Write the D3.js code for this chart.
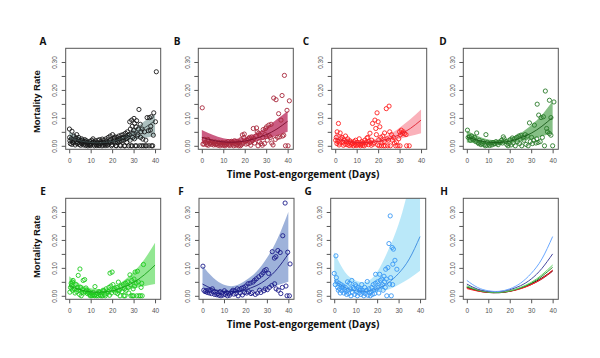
<!DOCTYPE html>
<html><head><meta charset="utf-8">
<script src="https://cdn.jsdelivr.net/npm/d3@7"></script>
<style>body{margin:0;background:#fff}</style>
</head><body>
<svg id="c" width="600" height="358"></svg>
<script>
// ---------- DATA ----------
const fitDays = [0,5,10,15,20,25,30,35,40];
const xTicks = [0,10,20,30,40];
const yTicks = [0,0.05,0.10,0.15,0.20,0.25,0.30];
const yLabelTicks = [0,0.10,0.20,0.30];

const fitA = [0.030,0.018,0.012,0.011,0.016,0.027,0.043,0.064,0.090];
const loA  = [0.013,0.008,0.005,0.005,0.008,0.014,0.021,0.028,0.035];
const hiA  = [0.050,0.032,0.021,0.018,0.024,0.038,0.060,0.088,0.115];
const fitB = [0.030,0.020,0.014,0.013,0.017,0.026,0.040,0.060,0.088];
const loB  = [0.011,0.009,0.006,0.006,0.009,0.015,0.024,0.036,0.050];
const hiB  = [0.057,0.040,0.027,0.024,0.030,0.043,0.066,0.095,0.125];
const fitC = [0.026,0.017,0.012,0.012,0.016,0.025,0.040,0.062,0.092];
const loC  = [0.013,0.009,0.007,0.007,0.010,0.016,0.025,0.035,0.045];
const hiC  = [0.050,0.031,0.021,0.020,0.026,0.040,0.065,0.095,0.130];
const fitD = [0.032,0.020,0.013,0.012,0.017,0.028,0.045,0.070,0.102];
const loD  = [0.012,0.008,0.005,0.005,0.008,0.015,0.024,0.034,0.045];
const hiD  = [0.055,0.035,0.023,0.021,0.028,0.045,0.074,0.110,0.160];
const fitE = [0.036,0.022,0.014,0.013,0.018,0.030,0.048,0.075,0.110];
const loE  = [0.018,0.012,0.008,0.008,0.011,0.018,0.026,0.034,0.042];
const hiE  = [0.070,0.042,0.027,0.024,0.032,0.052,0.085,0.130,0.190];
const fitF = [0.042,0.024,0.016,0.015,0.022,0.036,0.060,0.098,0.150];
const loF  = [0.026,0.016,0.011,0.010,0.013,0.019,0.027,0.038,0.050];
const hiF  = [0.108,0.065,0.040,0.036,0.055,0.085,0.135,0.205,0.300];
const fitG = [0.055,0.030,0.018,0.016,0.025,0.045,0.080,0.132,0.212];
const loG  = [0.035,0.020,0.012,0.011,0.014,0.022,0.040,0.062,0.090];
const hiG  = [0.157,0.085,0.055,0.050,0.085,0.160,0.256,0.400,0.600];

const ptsA = [[0.1,.060],[0.3,.018],[0.5,.008],[0.2,.030],[1.3,.052],[1.0,.025],[1.6,.012],[1.2,.005],
[2.2,.035],[2.5,.020],[2.0,.010],[2.8,.003],[3.1,.028],[3.4,.015],[3.7,.008],[3.5,.040],
[4.2,.022],[4.0,.012],[4.6,.005],[4.4,.030],[5.1,.018],[5.5,.010],[5.3,.002],[5.8,.025],
[6.2,.020],[6.0,.008],[6.6,.003],[6.4,.013],[7.1,.015],[7.4,.006],[7.7,.001],[7.3,.022],
[8.2,.012],[8.5,.005],[8.0,.018],[8.7,.000],[9.1,.010],[9.4,.004],[9.6,.016],[9.9,.001],
[10.2,.008],[10.5,.020],[10.0,.003],[10.8,.012],[11.1,.025],[11.4,.006],[11.7,.000],[11.3,.014],
[12.2,.018],[12.5,.004],[12.0,.010],[12.8,.001],[13.1,.012],[13.4,.020],[13.7,.002],[13.3,.007],
[14.2,.022],[14.5,.008],[14.0,.001],[14.8,.015],[15.1,.010],[15.4,.024],[15.7,.003],[15.3,.000],
[16.2,.020],[16.5,.006],[16.0,.012],[16.8,.001],[17.1,.025],[17.4,.008],[17.7,.002],[17.3,.015],
[18.2,.030],[18.5,.010],[18.0,.003],[18.8,.018],[19.1,.035],[19.4,.012],[19.7,.000],[19.3,.022],
[20.2,.040],[20.5,.015],[20.0,.004],[20.8,.025],[21.1,.028],[21.4,.010],[21.7,.001],[21.3,.032],
[22.2,.030],[22.5,.012],[22.0,.000],[22.8,.020],[23.1,.035],[23.4,.015],[23.7,.002],[23.3,.025],
[24.2,.038],[24.5,.018],[24.0,.000],[24.8,.028],[25.1,.040],[25.4,.020],[25.7,.000],[25.3,.030],
[26.2,.045],[26.5,.025],[26.0,.000],[26.8,.012],[27.1,.050],[27.4,.030],[27.7,.000],[27.3,.038],
[28.2,.086],[28.5,.060],[28.0,.040],[28.8,.000],[28.4,.020],[29.1,.092],[29.4,.070],[29.7,.045],[29.3,.000],[29.6,.030],
[30.2,.098],[30.5,.080],[30.0,.055],[30.8,.000],[30.4,.025],[31.1,.068],[31.4,.090],[31.7,.035],[31.3,.000],
[32.5,.130],[32.2,.060],[32.0,.040],[32.8,.000],[33.1,.077],[33.4,.050],[33.7,.000],[33.3,.030],
[34.3,.024],[34.5,.000],[34.0,.060],[35.1,.050],[35.4,.000],[35.7,.020],[36.3,.101],[36.9,.054],[36.0,.000],
[37.4,.101],[37.8,.056],[37.2,.000],[38.2,.104],[38.4,.000],[38.0,.070],[39.4,.118],[39.2,.038],[38.9,.000],
[40.2,.086],[40.6,.265]];

const ptsB = [[0.2,.136],[0.5,.006],[1.2,.023],[1.0,.006],[1.6,.012],[2.8,.023],[2.3,.004],[2.5,.010],
[3.2,.018],[3.6,.008],[3.0,.002],[4.2,.012],[4.5,.005],[4.8,.015],[5.2,.010],[5.5,.003],[5.8,.008],
[6.2,.014],[6.5,.004],[6.8,.006],[7.2,.008],[7.5,.002],[7.8,.012],[8.2,.010],[8.5,.000],[8.8,.005],
[9.2,.006],[9.5,.012],[9.8,.002],[10.2,.009],[10.5,.003],[10.8,.000],[11.2,.012],[11.5,.004],[11.8,.007],
[12.2,.015],[12.5,.005],[12.8,.001],[13.2,.010],[13.5,.003],[13.8,.016],[14.2,.012],[14.5,.006],[14.8,.000],
[15.2,.018],[15.5,.008],[15.8,.002],[16.2,.015],[16.5,.005],[16.8,.010],[17.2,.000],[17.5,.012],[17.8,.006],
[18.2,.022],[18.5,.004],[18.0,.000],[18.9,.039],[19.3,.010],[19.6,.030],[19.8,.042],[20.3,.015],[20.6,.006],
[21.2,.020],[21.5,.008],[21.8,.025],[22.2,.030],[22.5,.012],[22.8,.002],[23.2,.032],[23.6,.018],
[24.0,.062],[24.3,.026],[24.6,.010],[25.5,.064],[25.8,.050],[25.2,.035],[26.2,.000],[26.5,.045],[26.8,.015],
[27.2,.038],[27.6,.008],[28.2,.002],[28.6,.058],[28.4,.030],[29.2,.008],[29.7,.062],[29.5,.040],
[30.2,.068],[30.5,.020],[31.2,.074],[31.5,.035],[32.3,.077],[32.0,.030],[32.6,.010],[33.5,.171],[33.2,.003],
[34.6,.165],[34.3,.023],[35.8,.115],[35.3,.030],[36.9,.092],[36.3,.032],[37.4,.180],[37.6,.035],
[38.5,.252],[38.2,.038],[39.0,.000],[39.7,.127],[40.2,.000],[40.8,.161]];

const ptsC = [[0.2,.020],[0.5,.030],[0.8,.008],[0.9,.050],[1.5,.080],[1.2,.015],[1.8,.003],
[2.3,.046],[2.6,.025],[2.0,.010],[3.2,.030],[3.5,.012],[3.8,.002],[4.2,.020],[4.5,.006],[4.8,.035],
[5.2,.015],[5.5,.004],[5.8,.025],[6.2,.010],[6.5,.001],[6.8,.018],[7.2,.012],[7.5,.003],[7.8,.008],
[8.2,.008],[8.5,.000],[8.8,.015],[9.2,.005],[9.5,.020],[9.8,.001],[10.2,.012],[10.5,.003],[10.8,.006],
[11.2,.025],[11.5,.004],[11.8,.000],[12.2,.008],[12.5,.015],[12.8,.002],[13.2,.010],[13.5,.000],[13.8,.020],
[14.2,.006],[14.5,.012],[14.8,.028],[15.2,.030],[15.5,.004],[15.8,.015],[16.2,.045],[16.5,.010],[16.8,.002],
[17.4,.080],[17.0,.020],[17.7,.006],[18.5,.092],[18.9,.062],[18.2,.012],[19.5,.118],[19.2,.040],[19.8,.003],
[20.0,.086],[20.8,.068],[20.5,.000],[20.3,.022],[21.2,.030],[21.5,.000],[21.8,.010],[22.2,.035],[22.5,.000],[22.8,.015],
[23.8,.133],[23.0,.046],[23.3,.000],[24.2,.025],[24.5,.000],[24.8,.020],[25.1,.142],[25.4,.050],[25.7,.000],
[26.2,.040],[26.6,.020],[27.2,.030],[27.6,.010],[28.5,.014],[28.2,.000],[29.2,.000],[29.6,.025],
[30.0,.050],[30.4,.040],[30.2,.000],[30.8,.056],[31.3,.045],[32.3,.044],[31.8,.050],[33.0,.040],[33.3,.000],[34.5,.000]];

const ptsD = [[0.3,.056],[0.6,.030],[1.2,.032],[1.6,.020],[2.2,.035],[2.6,.025],[3.2,.022],[3.6,.030],
[4.6,.046],[4.2,.015],[5.2,.012],[5.5,.008],[5.8,.020],[6.2,.010],[6.6,.004],[7.2,.008],[7.6,.015],
[8.2,.005],[8.6,.000],[8.9,.040],[9.3,.002],[9.6,.012],[10.2,.006],[10.6,.001],[11.2,.010],[11.6,.003],
[12.2,.012],[12.6,.006],[13.2,.008],[13.6,.015],[14.2,.010],[14.6,.004],[15.2,.014],[15.6,.012],
[16.2,.020],[16.6,.010],[17.0,.032],[17.4,.025],[18.2,.015],[18.6,.005],[19.2,.000],[19.6,.008],
[20.2,.022],[20.6,.003],[21.2,.028],[21.6,.010],[22.2,.025],[22.6,.000],[23.2,.030],[23.6,.015],
[24.2,.035],[24.6,.008],[25.2,.038],[25.6,.000],[26.2,.030],[26.6,.020],[27.2,.040],[27.6,.005],
[28.2,.035],[28.6,.000],[29.2,.082],[29.6,.015],[30.2,.030],[30.6,.008],[31.5,.074],[31.2,.020],
[32.2,.010],[32.6,.025],[32.8,.149],[33.5,.110],[33.2,.012],[34.6,.101],[34.2,.015],[35.7,.104],[35.2,.030],
[36.6,.196],[36.2,.000],[37.2,.062],[37.6,.050],[38.5,.163],[38.5,.044],[39.2,.101],[39.2,.038],[40.6,.157],[40.0,.000]];

const ptsE = [[0.3,.013],[0.6,.030],[0.9,.045],[1.1,.037],[1.5,.020],[1.8,.055],[1.6,.049],[2.4,.025],[2.7,.010],
[3.2,.040],[3.5,.015],[3.8,.030],[4.2,.073],[4.5,.020],[4.8,.005],[5.0,.096],[5.3,.030],[5.6,.000],[5.9,.012],
[6.5,.055],[6.2,.022],[6.8,.010],[7.2,.058],[7.5,.015],[7.8,.028],[8.2,.020],[8.5,.008],[8.8,.012],
[9.2,.015],[9.5,.005],[9.8,.000],[10.2,.010],[10.5,.000],[10.8,.003],[11.2,.012],[11.5,.002],[11.8,.000],
[12.0,.033],[12.4,.005],[12.7,.000],[13.2,.008],[13.5,.000],[13.8,.015],[14.2,.012],[14.5,.003],[14.8,.000],
[15.2,.010],[15.5,.000],[15.8,.020],[16.2,.018],[16.5,.005],[16.8,.000],[17.2,.025],[17.6,.008],
[18.2,.015],[18.5,.030],[18.8,.002],[19.0,.081],[19.4,.035],[19.7,.010],[20.0,.085],[20.4,.040],[20.7,.020],
[21.2,.025],[21.6,.012],[22.2,.030],[22.5,.008],[22.8,.018],[22.9,.049],[23.4,.020],[23.7,.000],
[24.2,.035],[24.6,.015],[25.2,.040],[25.5,.000],[25.8,.025],[26.2,.045],[26.5,.020],[26.0,.000],
[27.2,.050],[27.5,.030],[27.8,.010],[28.3,.075],[28.5,.040],[28.8,.000],[29.2,.055],[29.5,.000],[29.8,.025],
[30.2,.060],[30.5,.035],[30.0,.000],[30.7,.085],[31.2,.045],[31.5,.000],[31.8,.088],[32.2,.050],[32.5,.000],
[33.8,.045],[33.2,.000],[33.5,.030],[34.6,.112],[34.0,.000]];

const ptsF = [[0.2,.106],[0.6,.020],[1.2,.015],[1.6,.018],[2.2,.012],[2.6,.020],[3.2,.010],[3.6,.018],
[4.2,.008],[4.6,.025],[5.2,.015],[5.6,.005],[6.2,.012],[6.6,.004],[7.2,.008],[7.6,.002],[8.2,.015],[8.6,.000],
[9.2,.010],[9.6,.003],[10.2,.018],[10.6,.005],[11.2,.012],[11.6,.000],[12.2,.008],[12.6,.002],
[13.2,.010],[13.6,.015],[14.2,.020],[14.6,.006],[15.2,.018],[15.6,.008],[16.2,.025],[16.6,.000],
[17.2,.022],[17.6,.010],[18.2,.027],[18.6,.003],[19.2,.030],[19.6,.012],[20.2,.035],[20.6,.010],
[21.2,.043],[21.4,.015],[22.2,.045],[22.6,.008],[23.5,.049],[23.2,.012],[24.2,.055],[24.6,.005],
[25.1,.061],[25.6,.010],[26.2,.068],[26.6,.020],[27.4,.075],[27.2,.012],[28.2,.082],[28.6,.018],
[28.9,.090],[29.2,.025],[29.7,.094],[30.2,.022],[30.8,.080],[31.2,.030],[32.5,.158],[32.3,.037],
[33.5,.135],[33.6,.043],[34.2,.140],[34.3,.025],[35.1,.162],[35.3,.020],[36.2,.155],[36.5,.008],
[37.4,.215],[37.2,.030],[38.5,.332],[38.9,.035],[39.4,.000],[39.7,.156],[40.5,.000],[40.8,.114]];

const ptsG = [[0.0,.080],[0.8,.143],[1.0,.065],[0.5,.040],[1.3,.050],[1.6,.030],[1.9,.020],
[2.2,.045],[2.5,.025],[2.8,.010],[3.2,.040],[3.5,.018],[3.8,.030],[4.2,.035],[4.5,.010],[4.8,.022],
[5.2,.030],[5.5,.015],[5.8,.005],[6.2,.050],[6.5,.020],[6.8,.008],[7.2,.045],[7.5,.025],[7.8,.000],
[8.2,.055],[8.5,.012],[8.8,.030],[9.2,.025],[9.5,.005],[9.8,.040],[10.2,.035],[10.5,.015],[10.8,.000],
[11.2,.030],[11.5,.010],[11.8,.020],[12.2,.025],[12.5,.005],[12.8,.040],[13.2,.020],[13.5,.012],[13.8,.000],
[14.2,.030],[14.5,.008],[14.8,.018],[15.4,.051],[15.2,.020],[15.7,.002],[16.2,.025],[16.5,.010],[16.8,.000],
[17.2,.015],[17.5,.030],[17.8,.005],[18.2,.040],[18.5,.020],[18.8,.008],[19.3,.077],[19.2,.045],[19.6,.025],
[20.2,.050],[20.5,.030],[20.8,.010],[21.2,.077],[21.5,.055],[21.8,.035],[22.2,.060],[22.5,.040],[22.8,.020],
[23.2,.070],[23.5,.050],[23.8,.030],[24.0,.095],[24.5,.000],[24.3,.060],[25.0,.101],[25.5,.187],[25.8,.042],
[26.1,.286],[26.6,.000],[26.3,.065],[27.0,.173],[27.3,.113],[27.2,.040],[27.6,.167],[28.3,.127],[29.2,.095]];

const panelLetters = ["A","B","C","D","E","F","G","H"];
const yTitle = "Mortality Rate";
const xTitle = "Time Post-engorgement (Days)";

// ---------- STYLE / LAYOUT ----------
const series = [
  {pts:ptsA, fit:fitA, lo:loA, hi:hiA, pt:"#1a1a1a", band:"#a3b9b8", line:"#3a4a4a", hline:"#111111"},
  {pts:ptsB, fit:fitB, lo:loB, hi:hiB, pt:"#a8283c", band:"#c54a74", line:"#7a1030", hline:"#a01830"},
  {pts:ptsC, fit:fitC, lo:loC, hi:hiC, pt:"#ff2020", band:"#f9a9b3", line:"#e02030", hline:"#ff2020"},
  {pts:ptsD, fit:fitD, lo:loD, hi:hiD, pt:"#2a7a2a", band:"#78b878", line:"#1a5a1a", hline:"#2e8b2e"},
  {pts:ptsE, fit:fitE, lo:loE, hi:hiE, pt:"#1ecb1e", band:"#86e486", line:"#18a018", hline:"#5fd35f"},
  {pts:ptsF, fit:fitF, lo:loF, hi:hiF, pt:"#1c1c8a", band:"#93aad6", line:"#1a1a80", hline:"#4848a0"},
  {pts:ptsG, fit:fitG, lo:loG, hi:hiG, pt:"#3a98f5", band:"#b2e6f8", line:"#3a8ae0", hline:"#6aa8ff"}
];
const W = 95, H = 101;
const layout = [
  {left:65.7, top:48.3, lx:43}, {left:198.3, top:48.3, lx:177}, {left:331.7, top:48.3, lx:306}, {left:463.3, top:48.3, lx:443},
  {left:65.7, top:198.3, lx:43}, {left:199, top:198.3, lx:181}, {left:330.7, top:198.3, lx:308}, {left:463.3, top:198.3, lx:444}
];

const svg = d3.select("#c");
const tickFont = "'Liberation Sans', Arial, sans-serif";
const fmt = d3.format(".2f");

layout.forEach((L, i) => {
  const x = d3.scaleLinear().domain([-1.64, 42.64]).range([L.left, L.left + W]);
  const y = d3.scaleLinear().domain([-0.0125, 0.349]).range([L.top + H, L.top]);
  const g = svg.append("g");
  const cid = "clip" + i;
  svg.append("clipPath").attr("id", cid).append("rect")
    .attr("x", L.left).attr("y", L.top).attr("width", W).attr("height", H);
  const inner = g.append("g").attr("clip-path", `url(#${cid})`);
  const line = d3.line().x((d, k) => x(fitDays[k])).y(d => y(d)).curve(d3.curveNatural);

  if (i < 7) {
    const s = series[i];
    const area = d3.area().x((d, k) => x(fitDays[k]))
      .y0((d, k) => y(s.lo[k])).y1((d, k) => y(s.hi[k])).curve(d3.curveNatural);
    inner.append("path").datum(s.fit).attr("d", area)
      .attr("fill", s.band).attr("fill-opacity", 0.9);
    inner.selectAll("circle").data(s.pts).join("circle")
      .attr("cx", d => x(d[0])).attr("cy", d => y(d[1])).attr("r", 2.1)
      .attr("fill", "none").attr("stroke", s.pt).attr("stroke-width", 0.9);
    inner.append("path").datum(s.fit).attr("d", line)
      .attr("fill", "none").attr("stroke", s.line).attr("stroke-width", 0.9);
  } else {
    series.forEach(s => {
      inner.append("path").datum(s.fit).attr("d", line)
        .attr("fill", "none").attr("stroke", s.hline).attr("stroke-width", 1);
    });
  }

  // box
  g.append("rect").attr("x", L.left).attr("y", L.top).attr("width", W).attr("height", H)
    .attr("fill", "none").attr("stroke", "#555").attr("stroke-width", 1);

  // x axis
  const xa = g.append("g").attr("transform", `translate(0,${L.top + H})`)
    .call(d3.axisBottom(x).tickValues(xTicks).tickSize(4).tickFormat(d3.format("d")));
  xa.select(".domain").remove();
  xa.selectAll("line").attr("stroke", "#555");
  xa.selectAll("text").attr("y", 9).attr("fill", "#555")
    .style("font-family", tickFont).style("font-size", "6.5px");

  // y axis
  const ya = g.append("g").attr("transform", `translate(${L.left},0)`)
    .call(d3.axisLeft(y).tickValues(yTicks).tickSize(4)
      .tickFormat(d => yLabelTicks.some(v => Math.abs(v - d) < 1e-9) ? fmt(d) : ""));
  ya.select(".domain").remove();
  ya.selectAll("line").attr("stroke", "#555");
  ya.selectAll("text").attr("x", null).attr("dy", "0.35em")
    .attr("transform", "translate(-11,0) rotate(-90)")
    .attr("text-anchor", "middle").attr("fill", "#555")
    .style("font-family", tickFont).style("font-size", "6.5px");

  // panel letter
  svg.append("text").attr("x", L.lx).attr("y", L.top - 6.5).attr("dy", "0.35em")
    .attr("text-anchor", "middle").style("font-family", "'Open Sans', sans-serif")
    .style("font-weight", "bold").style("font-size", "10px").attr("fill", "#111")
    .text(panelLetters[i]);
});

// y titles
[101.7, 246.7].forEach(cy => {
  svg.append("text").attr("transform", `translate(36.7,${cy}) rotate(-90)`)
    .attr("dy", "0.35em").attr("text-anchor", "middle")
    .style("font-family", "'Liberation Sans', Arial, sans-serif").style("font-weight", "bold")
    .style("font-size", "9.5px").attr("fill", "#111").text(yTitle);
});
// x titles
[174.3, 324].forEach(cy => {
  svg.append("text").attr("x", 303).attr("y", cy).attr("dy", "0.35em")
    .attr("text-anchor", "middle")
    .style("font-family", "'Open Sans', sans-serif").style("font-weight", "bold")
    .style("font-size", "10px").attr("fill", "#111").text(xTitle);
});
</script></body></html>
